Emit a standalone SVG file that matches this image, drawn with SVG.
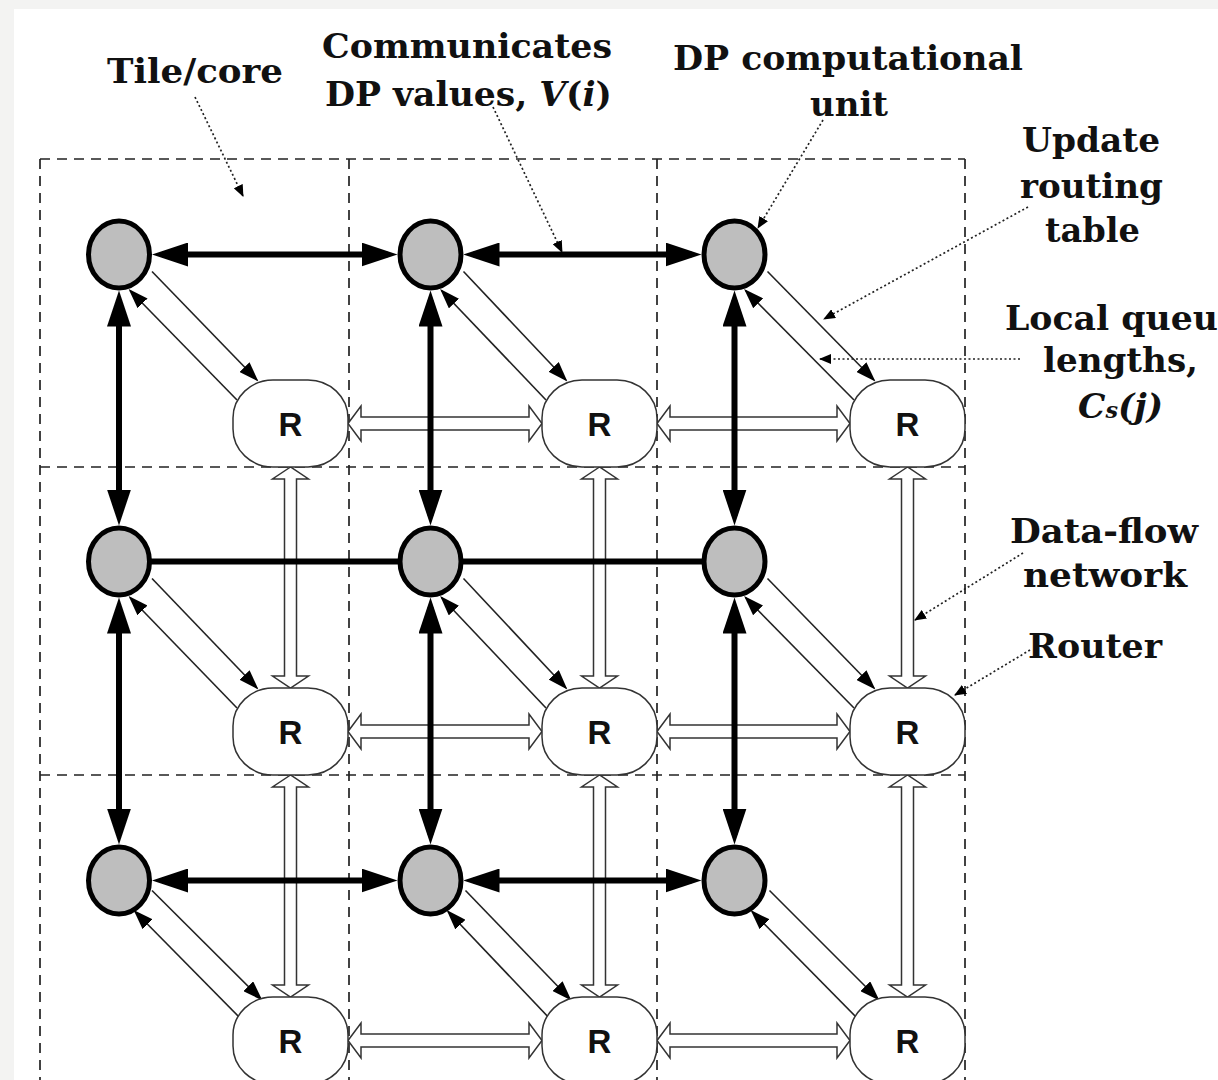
<svg xmlns="http://www.w3.org/2000/svg" width="1218" height="1080" viewBox="0 0 1218 1080">
  <style>
    .grid { stroke: #222; stroke-width: 1.7; stroke-dasharray: 10 7; fill: none; }
    .dp { fill: #bebebe; stroke: #000; stroke-width: 5; }
    .rt { fill: #fff; stroke: #333; stroke-width: 1.5; }
    .rlabel { font-family: "Liberation Sans", Arial, sans-serif; font-weight: bold; font-size: 33px; fill: #111; text-anchor: middle; }
    .thick { stroke: #000; stroke-width: 6; fill: none; }
    .thin { stroke: #222; stroke-width: 1.6; fill: none; }
    .flow { fill: #fff; stroke: #333; stroke-width: 1.5; stroke-linejoin: miter; }
    .lead { stroke: #222; stroke-width: 1.7; stroke-dasharray: 2 2.5; fill: none; }
    .lbl { font-family: "DejaVu Serif", "Liberation Serif", serif; font-weight: bold; font-size: 34px; fill: #111; }
  </style>
  <defs>
    <marker id="headThick" viewBox="0 0 36 24" markerUnits="userSpaceOnUse" markerWidth="36" markerHeight="24" refX="26" refY="12" orient="auto-start-reverse">
      <path d="M0,0 L36,12 L0,24 Z" fill="#000"/>
    </marker>
    <marker id="headThin" viewBox="0 0 20 14" markerUnits="userSpaceOnUse" markerWidth="20" markerHeight="14" refX="18" refY="7" orient="auto">
      <path d="M0,0 L20,7 L0,14 Z" fill="#000"/>
    </marker>
    <marker id="headLead" viewBox="0 0 12 10" markerUnits="userSpaceOnUse" markerWidth="12" markerHeight="10" refX="11" refY="5" orient="auto">
      <path d="M0,0 L12,5 L0,10 Z" fill="#000"/>
    </marker>
  </defs>

  <!-- page -->
  <rect x="0" y="0" width="1218" height="1080" fill="#f3f3f2"/>
  <rect x="14" y="9" width="1204" height="1071" fill="#fff"/>

  <!-- tile boundaries -->
  <g id="tiles" class="grid">
    <line x1="40" y1="159" x2="965" y2="159"/>
    <line x1="40" y1="467" x2="965" y2="467"/>
    <line x1="40" y1="775" x2="965" y2="775"/>
    <line x1="40" y1="159" x2="40" y2="1080"/>
    <line x1="349" y1="159" x2="349" y2="1080"/>
    <line x1="657" y1="159" x2="657" y2="1080"/>
    <line x1="965" y1="159" x2="965" y2="1080"/>
  </g>

  <g id="connectors">
    <!-- data-flow network between routers (hollow double arrows) -->
    <g id="dataflow">
      <polygon class="flow" points="348,423.5 361,406 361,417 529,417 529,406 542,423.5 529,441 529,430 361,430 361,441"/>
      <polygon class="flow" points="657,423.5 670,406 670,417 837,417 837,406 850,423.5 837,441 837,430 670,430 670,441"/>
      <polygon class="flow" points="348,731.5 361,714 361,725 529,725 529,714 542,731.5 529,749 529,738 361,738 361,749"/>
      <polygon class="flow" points="657,731.5 670,714 670,725 837,725 837,714 850,731.5 837,749 837,738 670,738 670,749"/>
      <polygon class="flow" points="348,1040.5 361,1023 361,1034 529,1034 529,1023 542,1040.5 529,1058 529,1047 361,1047 361,1058"/>
      <polygon class="flow" points="657,1040.5 670,1023 670,1034 837,1034 837,1023 850,1040.5 837,1058 837,1047 670,1047 670,1058"/>
      <polygon class="flow" points="290.5,467 272.5,479 284.5,479 284.5,676 272.5,676 290.5,688 308.5,676 296.5,676 296.5,479 308.5,479"/>
      <polygon class="flow" points="290.5,775 272.5,787 284.5,787 284.5,985 272.5,985 290.5,997 308.5,985 296.5,985 296.5,787 308.5,787"/>
      <polygon class="flow" points="599.5,467 581.5,479 593.5,479 593.5,676 581.5,676 599.5,688 617.5,676 605.5,676 605.5,479 617.5,479"/>
      <polygon class="flow" points="599.5,775 581.5,787 593.5,787 593.5,985 581.5,985 599.5,997 617.5,985 605.5,985 605.5,787 617.5,787"/>
      <polygon class="flow" points="907.5,467 889.5,479 901.5,479 901.5,676 889.5,676 907.5,688 925.5,676 913.5,676 913.5,479 925.5,479"/>
      <polygon class="flow" points="907.5,775 889.5,787 901.5,787 901.5,985 889.5,985 907.5,997 925.5,985 913.5,985 913.5,787 925.5,787"/>
    </g>

    <!-- unit <-> router links -->
    <g id="local-links" class="thin">
      <line x1="152" y1="271.5" x2="257" y2="380" marker-end="url(#headThin)"/>
      <line x1="237" y1="400" x2="130" y2="290.5" marker-end="url(#headThin)"/>
      <line x1="463.5" y1="271.5" x2="566" y2="380" marker-end="url(#headThin)"/>
      <line x1="546" y1="400" x2="441.5" y2="290.5" marker-end="url(#headThin)"/>
      <line x1="767.5" y1="271.5" x2="874" y2="380" marker-end="url(#headThin)"/>
      <line x1="854" y1="400" x2="745.5" y2="290.5" marker-end="url(#headThin)"/>

      <line x1="152" y1="578.5" x2="257" y2="688" marker-end="url(#headThin)"/>
      <line x1="237" y1="708" x2="130" y2="597.5" marker-end="url(#headThin)"/>
      <line x1="463.5" y1="578.5" x2="566" y2="688" marker-end="url(#headThin)"/>
      <line x1="546" y1="708" x2="441.5" y2="597.5" marker-end="url(#headThin)"/>
      <line x1="767.5" y1="578.5" x2="874" y2="688" marker-end="url(#headThin)"/>
      <line x1="854" y1="708" x2="745.5" y2="597.5" marker-end="url(#headThin)"/>

      <line x1="152" y1="890.5" x2="261" y2="999" marker-end="url(#headThin)"/>
      <line x1="243" y1="1021" x2="135" y2="911.5" marker-end="url(#headThin)"/>
      <line x1="465.5" y1="890.5" x2="570" y2="999" marker-end="url(#headThin)"/>
      <line x1="552" y1="1021" x2="448" y2="911.5" marker-end="url(#headThin)"/>
      <line x1="769.5" y1="890.5" x2="878" y2="999" marker-end="url(#headThin)"/>
      <line x1="860" y1="1021" x2="752" y2="911.5" marker-end="url(#headThin)"/>
    </g>

    <!-- DP value links between computational units -->
    <g id="dp-links" class="thick">
      <line x1="119" y1="561.5" x2="734.5" y2="561.5"/>
      <line x1="162" y1="254.5" x2="387.5" y2="254.5" marker-start="url(#headThick)" marker-end="url(#headThick)"/>
      <line x1="473.5" y1="254.5" x2="691.5" y2="254.5" marker-start="url(#headThick)" marker-end="url(#headThick)"/>
      <line x1="162" y1="880.5" x2="387.5" y2="880.5" marker-start="url(#headThick)" marker-end="url(#headThick)"/>
      <line x1="473.5" y1="880.5" x2="691.5" y2="880.5" marker-start="url(#headThick)" marker-end="url(#headThick)"/>
      <line x1="119" y1="300.5" x2="119" y2="515.5" marker-start="url(#headThick)" marker-end="url(#headThick)"/>
      <line x1="119" y1="607.5" x2="119" y2="834.5" marker-start="url(#headThick)" marker-end="url(#headThick)"/>
      <line x1="430.5" y1="300.5" x2="430.5" y2="515.5" marker-start="url(#headThick)" marker-end="url(#headThick)"/>
      <line x1="430.5" y1="607.5" x2="430.5" y2="834.5" marker-start="url(#headThick)" marker-end="url(#headThick)"/>
      <line x1="734.5" y1="300.5" x2="734.5" y2="515.5" marker-start="url(#headThick)" marker-end="url(#headThick)"/>
      <line x1="734.5" y1="607.5" x2="734.5" y2="834.5" marker-start="url(#headThick)" marker-end="url(#headThick)"/>
    </g>

    <!-- annotation leaders -->
    <g id="leaders" class="lead">
      <line x1="195" y1="97" x2="243" y2="196" marker-end="url(#headLead)"/>
      <line x1="493" y1="107" x2="562" y2="252" marker-end="url(#headLead)"/>
      <line x1="823" y1="120" x2="758" y2="228" marker-end="url(#headLead)"/>
      <line x1="1028" y1="207" x2="824" y2="319" marker-end="url(#headLead)"/>
      <line x1="1020" y1="359" x2="820" y2="359" marker-end="url(#headLead)"/>
      <line x1="1023" y1="553" x2="915" y2="620" marker-end="url(#headLead)"/>
      <line x1="1030" y1="650" x2="955" y2="695" marker-end="url(#headLead)"/>
    </g>
  </g>

  <!-- DP computational units -->
  <g id="dp-r0c0"><ellipse class="dp" cx="119" cy="254.5" rx="30.5" ry="33.5"/></g>
  <g id="dp-r0c1"><ellipse class="dp" cx="430.5" cy="254.5" rx="30.5" ry="33.5"/></g>
  <g id="dp-r0c2"><ellipse class="dp" cx="734.5" cy="254.5" rx="30.5" ry="33.5"/></g>
  <g id="dp-r1c0"><ellipse class="dp" cx="119" cy="561.5" rx="30.5" ry="33.5"/></g>
  <g id="dp-r1c1"><ellipse class="dp" cx="430.5" cy="561.5" rx="30.5" ry="33.5"/></g>
  <g id="dp-r1c2"><ellipse class="dp" cx="734.5" cy="561.5" rx="30.5" ry="33.5"/></g>
  <g id="dp-r2c0"><ellipse class="dp" cx="119" cy="880.5" rx="30.5" ry="33.5"/></g>
  <g id="dp-r2c1"><ellipse class="dp" cx="430.5" cy="880.5" rx="30.5" ry="33.5"/></g>
  <g id="dp-r2c2"><ellipse class="dp" cx="734.5" cy="880.5" rx="30.5" ry="33.5"/></g>

  <!-- routers -->
  <g id="router-r0c0"><rect class="rt" x="233" y="380" width="115" height="87" rx="40" ry="38"/><text class="rlabel" x="290.5" y="435.5">R</text></g>
  <g id="router-r0c1"><rect class="rt" x="542" y="380" width="115" height="87" rx="40" ry="38"/><text class="rlabel" x="599.5" y="435.5">R</text></g>
  <g id="router-r0c2"><rect class="rt" x="850" y="380" width="115" height="87" rx="40" ry="38"/><text class="rlabel" x="907.5" y="435.5">R</text></g>
  <g id="router-r1c0"><rect class="rt" x="233" y="688" width="115" height="87" rx="40" ry="38"/><text class="rlabel" x="290.5" y="743.5">R</text></g>
  <g id="router-r1c1"><rect class="rt" x="542" y="688" width="115" height="87" rx="40" ry="38"/><text class="rlabel" x="599.5" y="743.5">R</text></g>
  <g id="router-r1c2"><rect class="rt" x="850" y="688" width="115" height="87" rx="40" ry="38"/><text class="rlabel" x="907.5" y="743.5">R</text></g>
  <g id="router-r2c0"><rect class="rt" x="233" y="997" width="115" height="87" rx="40" ry="38"/><text class="rlabel" x="290.5" y="1052.5">R</text></g>
  <g id="router-r2c1"><rect class="rt" x="542" y="997" width="115" height="87" rx="40" ry="38"/><text class="rlabel" x="599.5" y="1052.5">R</text></g>
  <g id="router-r2c2"><rect class="rt" x="850" y="997" width="115" height="87" rx="40" ry="38"/><text class="rlabel" x="907.5" y="1052.5">R</text></g>

  <!-- annotations -->
  <g id="labels" class="lbl">
    <text x="107" y="83" textLength="176" lengthAdjust="spacingAndGlyphs">Tile/core</text>
    <text x="322" y="58" textLength="290" lengthAdjust="spacingAndGlyphs">Communicates</text>
    <text x="325" y="106" textLength="287" lengthAdjust="spacingAndGlyphs">DP values, <tspan font-style="italic">V</tspan>(<tspan font-style="italic">i</tspan>)</text>
    <text x="673" y="70" textLength="350" lengthAdjust="spacingAndGlyphs">DP computational</text>
    <text x="810" y="116" textLength="78" lengthAdjust="spacingAndGlyphs">unit</text>
    <text x="1022" y="152" textLength="138" lengthAdjust="spacingAndGlyphs">Update</text>
    <text x="1020" y="198" textLength="143" lengthAdjust="spacingAndGlyphs">routing</text>
    <text x="1045" y="242" textLength="95" lengthAdjust="spacingAndGlyphs">table</text>
    <text x="1005" y="330" textLength="213" lengthAdjust="spacingAndGlyphs">Local queu</text>
    <text x="1043" y="372" textLength="155" lengthAdjust="spacingAndGlyphs">lengths,</text>
    <text x="1078" y="418" textLength="85" lengthAdjust="spacingAndGlyphs"><tspan font-style="italic">C</tspan><tspan font-size="22" font-style="italic">s</tspan><tspan font-style="italic">(j)</tspan></text>
    <text x="1010" y="543" textLength="188" lengthAdjust="spacingAndGlyphs">Data-flow</text>
    <text x="1023" y="587" textLength="164" lengthAdjust="spacingAndGlyphs">network</text>
    <text x="1028" y="658" textLength="134" lengthAdjust="spacingAndGlyphs">Router</text>
  </g>
</svg>
